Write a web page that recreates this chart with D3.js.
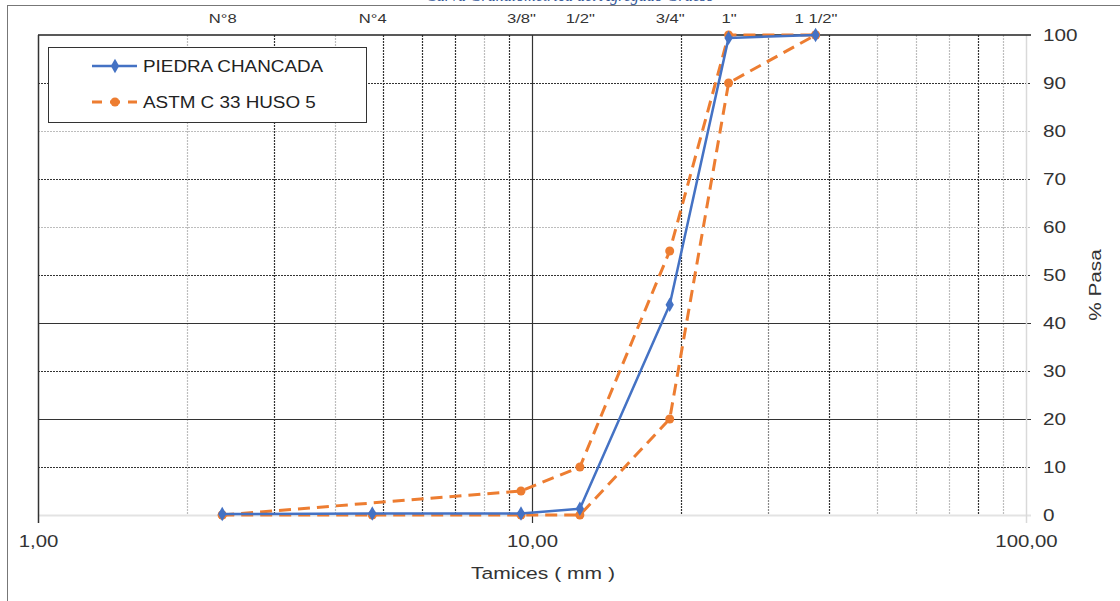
<!DOCTYPE html>
<html>
<head>
<meta charset="utf-8">
<script src="https://cdn.jsdelivr.net/npm/d3@7"></script>
<style>
  body { margin: 0; background: #fff; }
  svg { display: block; font-family: "Liberation Sans", Arial, sans-serif; }
</style>
</head>
<body>
<svg id="chart" width="1120" height="601"></svg>
<script>
"use strict";

// sieve openings (mm) and their names
var sieveSizes = [2.36, 4.75, 9.5, 12.5, 19, 25, 37.5];
var sieveNames = ["N°8", "N°4", "3/8\"", "1/2\"", "3/4\"", "1\"", "1 1/2\""];

// % passing
var piedraChancada = [0.2, 0.3, 0.3, 1.3, 43.8, 99.4, 100];
var husoUpperSizes = [2.36, 9.5, 12.5, 19, 25, 37.5];
var husoUpper = [0, 5, 10, 55, 100, 100];
var husoLowerSizes = [2.36, 4.75, 9.5, 12.5, 19, 25, 37.5];
var husoLower = [0, 0, 0, 0, 20, 90, 100];

var yTicks = [0, 10, 20, 30, 40, 50, 60, 70, 80, 90, 100];
var xMajor = [1, 10, 100];
var xMajorLabels = ["1,00", "10,00", "100,00"];

(function(){
    var svg = d3.select("#chart");
    var left = 38, right = 1026, top = 35, bottom = 515;

    var x = d3.scaleLog().domain([1, 100]).range([left, right]);
    var y = d3.scaleLinear().domain([0, 100]).range([bottom, top]);

    var blue = "#4472c4", orange = "#ed7d31";

    // the original text is rendered wider than Liberation Sans
    function stretch(sel, sx, rot){
        sel.each(function(){
            var t = d3.select(this);
            var tx = +t.attr("x") || 0, ty = +t.attr("y") || 0;
            t.attr("x", 0).attr("y", 0)
             .attr("transform", "translate(" + tx + "," + ty + ")" + (rot ? " rotate(" + rot + ")" : "") + " scale(" + sx + ",1)");
        });
    }

    // outer frame (partly off-page)
    svg.append("line").attr("x1", 7).attr("x2", 1120).attr("y1", 5.5).attr("y2", 5.5)
        .attr("stroke", "#777").attr("stroke-width", 1);
    svg.append("line").attr("x1", 7.5).attr("x2", 7.5).attr("y1", 5).attr("y2", 601)
        .attr("stroke", "#777").attr("stroke-width", 1);

    // clipped title peeking at the top
    svg.append("text").attr("x", 570).attr("y", 1).attr("text-anchor", "middle")
        .attr("font-size", 16).attr("font-style", "italic").attr("font-family", "Liberation Serif, serif")
        .attr("fill", "#2f5597").text("Curva Granulométrica del Agregado Grueso");

    // minor vertical grid
    var minor = [];
    [1, 10].forEach(function(dec){
        for (var k = 2; k <= 9; k++) minor.push(k * dec);
    });
    var darkMinor = [3, 5, 6, 7, 9, 20, 40, 80];
    svg.append("g").selectAll("line").data(minor).enter().append("line")
        .attr("x1", function(d){ return Math.round(x(d)) + 0.5; })
        .attr("x2", function(d){ return Math.round(x(d)) + 0.5; })
        .attr("y1", top).attr("y2", bottom)
        .attr("stroke", function(d){ return darkMinor.indexOf(d) >= 0 ? "#333" : (d === 30 ? "#888" : "#bdbdbd"); })
        .attr("stroke-width", 1.2)
        .attr("stroke-dasharray", "2,1");

    // horizontal grid
    var solidH = [20, 40];
    var lightH = [60, 80];
    svg.append("g").selectAll("line").data(yTicks.filter(function(d){ return d > 0 && d < 100; })).enter().append("line")
        .attr("x1", left).attr("x2", right + 5)
        .attr("y1", function(d){ return Math.round(y(d)) + 0.5; })
        .attr("y2", function(d){ return Math.round(y(d)) + 0.5; })
        .attr("stroke", function(d){ return lightH.indexOf(d) >= 0 ? "#bdbdbd" : "#333"; })
        .attr("stroke-width", 1.2)
        .attr("stroke-dasharray", function(d){ return solidH.indexOf(d) >= 0 ? null : "2,1"; });

    // axes lines
    svg.append("line").attr("x1", left).attr("x2", right + 5).attr("y1", bottom + 0.5).attr("y2", bottom + 0.5)
        .attr("stroke", "#e3e3e3").attr("stroke-width", 2);
    svg.append("line").attr("x1", right + 0.5).attr("x2", right + 0.5).attr("y1", top).attr("y2", bottom + 8)
        .attr("stroke", "#d9d9d9").attr("stroke-width", 1.5);
    svg.append("line").attr("x1", left).attr("x2", right + 5).attr("y1", top).attr("y2", top)
        .attr("stroke", "#222").attr("stroke-width", 1.5);
    svg.append("line").attr("x1", x(10) + 0.5).attr("x2", x(10) + 0.5).attr("y1", top).attr("y2", bottom + 8)
        .attr("stroke", "#333").attr("stroke-width", 1.2);
    svg.append("line").attr("x1", left + 0.5).attr("x2", left + 0.5).attr("y1", top).attr("y2", bottom + 8)
        .attr("stroke", "#333").attr("stroke-width", 1.5);

    // right axis labels
    var yAxis = d3.axisRight(y).tickValues(yTicks).tickSize(0).tickPadding(17);
    var gy = svg.append("g").attr("transform", "translate(" + right + ",0)").call(yAxis);
    gy.select(".domain").remove();
    gy.selectAll("text").attr("font-size", 17).attr("fill", "#333").attr("font-family", "Liberation Sans, Arial, sans-serif")
        .call(stretch, 1.22);

    svg.append("text")
        .attr("x", 1101).attr("y", 285)
        .attr("text-anchor", "middle").attr("font-size", 17).attr("fill", "#333")
        .text("% Pasa")
        .call(stretch, 1.22, -90);

    // bottom labels
    var xAxis = d3.axisBottom(x).tickValues(xMajor).tickSize(0).tickPadding(20)
        .tickFormat(function(d, i){ return xMajorLabels[i]; });
    var gx = svg.append("g").attr("transform", "translate(0," + bottom + ")").call(xAxis);
    gx.select(".domain").remove();
    gx.selectAll("text").attr("font-size", 17).attr("fill", "#333").attr("font-family", "Liberation Sans, Arial, sans-serif")
        .call(stretch, 1.2);

    svg.append("text").attr("x", 543).attr("y", 579).attr("text-anchor", "middle")
        .attr("font-size", 17).attr("fill", "#333").text("Tamices ( mm )")
        .call(stretch, 1.24);

    // top sieve labels
    var topAxis = d3.axisTop(x).tickValues(sieveSizes).tickSize(0).tickPadding(12)
        .tickFormat(function(d, i){ return sieveNames[i]; });
    var gt = svg.append("g").attr("transform", "translate(0," + top + ")").call(topAxis);
    gt.select(".domain").remove();
    gt.selectAll("text").attr("font-size", 13).attr("fill", "#333").attr("font-family", "Liberation Sans, Arial, sans-serif")
        .call(stretch, 1.28);

    var line = d3.line().x(function(d){ return x(d[0]); }).y(function(d){ return y(d[1]); });
    var diamond = d3.symbol().type(d3.symbolDiamond).size(60);

    // ASTM band
    var upper = d3.zip(husoUpperSizes, husoUpper);
    var lower = d3.zip(husoLowerSizes, husoLower);
    [lower, upper].forEach(function(pts){
        svg.append("path").attr("d", line(pts)).attr("fill", "none")
            .attr("stroke", orange).attr("stroke-width", 3)
            .attr("stroke-dasharray", "12,7");
        svg.append("g").selectAll("circle").data(pts).enter().append("circle")
            .attr("cx", function(d){ return x(d[0]); })
            .attr("cy", function(d){ return y(d[1]); })
            .attr("r", 4.5).attr("fill", orange);
    });

    // piedra chancada
    var pc = d3.zip(sieveSizes, piedraChancada);
    svg.append("path").attr("d", line(pc)).attr("fill", "none")
        .attr("stroke", blue).attr("stroke-width", 2.5).attr("stroke-linejoin", "round");
    svg.append("g").selectAll("path").data(pc).enter().append("path")
        .attr("d", diamond)
        .attr("transform", function(d){ return "translate(" + x(d[0]) + "," + y(d[1]) + ")"; })
        .attr("fill", blue);

    // legend
    var lg = svg.append("g");
    lg.append("rect").attr("x", 48.5).attr("y", 47.5).attr("width", 318).attr("height", 75)
        .attr("fill", "#fff").attr("stroke", "#333").attr("stroke-width", 1);
    lg.append("line").attr("x1", 92).attr("x2", 137).attr("y1", 66).attr("y2", 66)
        .attr("stroke", blue).attr("stroke-width", 2.5);
    lg.append("path").attr("d", diamond).attr("transform", "translate(115,66)").attr("fill", blue);
    lg.append("text").attr("x", 143).attr("y", 72).attr("font-size", 17).attr("fill", "#222")
        .text("PIEDRA CHANCADA").call(stretch, 1.11);
    lg.append("line").attr("x1", 92).attr("x2", 137).attr("y1", 102).attr("y2", 102)
        .attr("stroke", orange).attr("stroke-width", 3).attr("stroke-dasharray", "10,8");
    lg.append("circle").attr("cx", 115).attr("cy", 102).attr("r", 4.5).attr("fill", orange);
    lg.append("text").attr("x", 143).attr("y", 108).attr("font-size", 17).attr("fill", "#222")
        .text("ASTM C 33 HUSO 5").call(stretch, 1.11);
})();
</script>
</body>
</html>
